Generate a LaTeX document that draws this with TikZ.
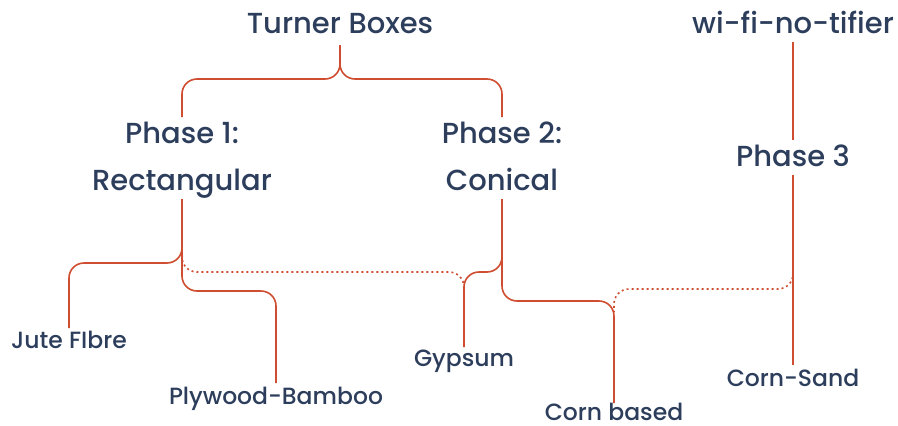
\documentclass[tikz,border=0pt]{standalone}
\usepackage{fontspec}
\setmainfont{Poppins Medium}
\definecolor{ink}{HTML}{2D3E5C}
\definecolor{wire}{HTML}{CF4E31}
\begin{document}
\begin{tikzpicture}[x=1pt,y=-1pt,
  head/.style={font=\fontsize{29}{33}\selectfont, text=ink, anchor=base, inner sep=0pt},
  leaf/.style={font=\fontsize{23.5}{27}\selectfont, text=ink, anchor=base, inner sep=0pt},
  link/.style={draw=wire, line width=1.6pt, rounded corners=15pt},
  dotlink/.style={link, dash pattern=on 2pt off 3pt}]
\useasboundingbox (0,0) rectangle (898,426);
% nodes
\node[head] (tb) at (340,33) {Turner Boxes};
\node[head] (wifi) at (793,33) {wi-fi-no-tifier};
\node[head] (p1a) at (182,143) {Phase 1:};
\node[head] (p1b) at (182,190) {Rectangular};
\node[head] (p2a) at (502,143) {Phase 2:};
\node[head] (p2b) at (502,190) {Conical};
\node[head] (p3) at (793,166) {Phase 3};
\node[leaf] (jute) at (69,348) {Jute FIbre};
\node[leaf] (ply) at (276,404) {Plywood-Bamboo};
\node[leaf] (gyp) at (464,366) {Gypsum};
\node[leaf] (corn) at (614,420) {Corn based};
\node[leaf] (sand) at (793,386) {Corn-Sand};
% coordinates
\coordinate (tbS) at (340,45);
\coordinate (brace) at (340,79);
\coordinate (p1N) at (182,117);
\coordinate (p2N) at (502,117);
\coordinate (p1S) at (182,199);
\coordinate (p2S) at (502,199);
\coordinate (juteN) at (69,328);
\coordinate (plyN) at (276,383);
\coordinate (gypN) at (464,347);
\coordinate (cornN) at (614,403);
\coordinate (wifiS) at (793,42);
\coordinate (p3N) at (793,140);
\coordinate (p3S) at (793,175);
\coordinate (sandN) at (793,365);
% connectors
\draw[link] (tbS) -- (brace) -| (p1N);
\draw[link] (tbS) -- (brace) -| (p2N);
\draw[link] (p1S) |- (69,263) -- (juteN);
\draw[link] (p1S) |- (276,291) -- (plyN);
\draw[dotlink] (182,250) |- (464,272) -- (464,290);
\draw[link] (p2S) |- (464,272) -- (gypN);
\draw[link] (p2S) |- (614,301) -- (cornN);
\draw[dotlink] (793,262) |- (614,289) -- (614,312);
\draw[link] (wifiS) -- (p3N);
\draw[link] (p3S) -- (sandN);
\end{tikzpicture}
\end{document}
